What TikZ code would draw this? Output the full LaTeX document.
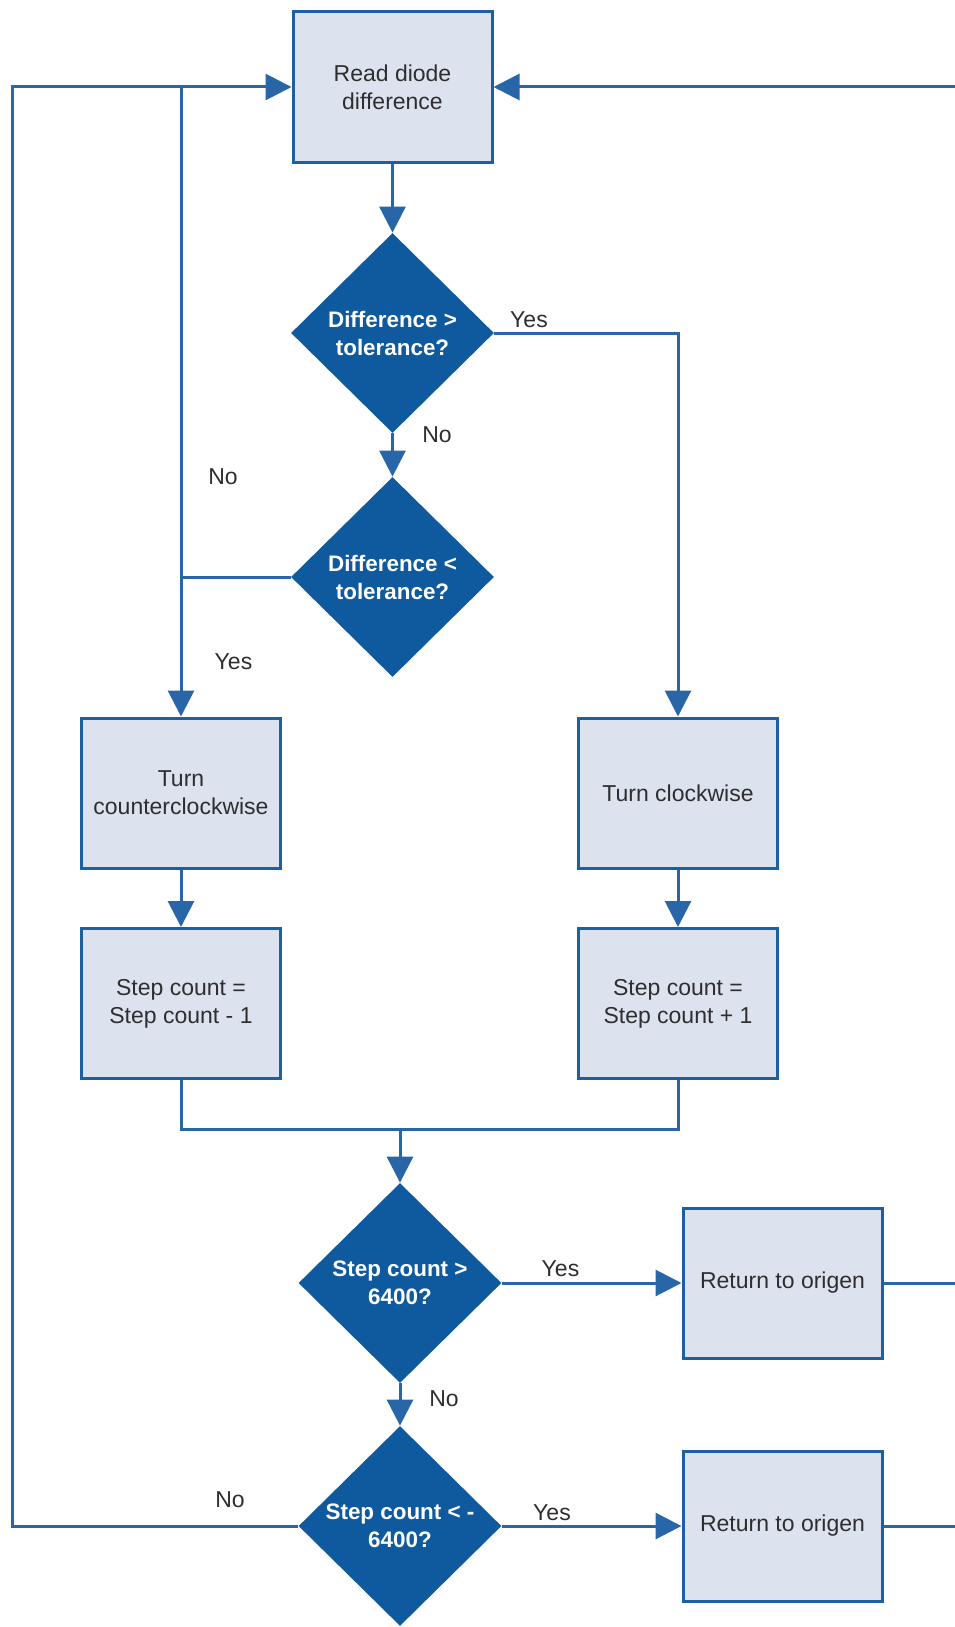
\documentclass[tikz,border=0pt]{standalone}
\usepackage{fontspec}
\setmainfont{Liberation Sans}
\usetikzlibrary{shapes.geometric,arrows.meta}
\definecolor{dblue}{HTML}{0F5A9E}
\definecolor{lblue}{HTML}{DCE3EE}
\definecolor{bborder}{HTML}{1E5F9F}
\definecolor{lcol}{HTML}{2866A8}
\definecolor{tcol}{HTML}{2E2E2E}
\begin{document}
\begin{tikzpicture}[x=0.5pt,y=-0.5pt,
 procbox/.style={draw=bborder, line width=1.5pt, fill=lblue, minimum width=99.5pt, minimum height=75pt, inner sep=2pt, align=center, text=tcol, font=\fontsize{11.5}{14}\selectfont},
 decision/.style={diamond, fill=dblue, draw=none, minimum width=101.5pt, minimum height=100pt, inner sep=0pt, align=center, text=white, font=\bfseries\fontsize{11.2}{14}\selectfont},
 conn/.style={draw=lcol, line width=1.5pt},
 arr/.style={conn, -{Triangle[length=13pt,width=13pt]}},
 lbl/.style={text=tcol, font=\fontsize{11.5}{14}\selectfont, inner sep=0pt}
]
\useasboundingbox (0,0) rectangle (954,1627);

% nodes
\node[procbox] (read) at (392.5,87) {Read diode\\difference};
\node[decision] (d1) at (392.5,333) {Difference >\\tolerance?};
\node[decision] (d2) at (392.5,577) {Difference <\\tolerance?};
\node[procbox] (ccw) at (181,793) {Turn\\counterclockwise};
\node[procbox] (cw) at (678,793) {Turn clockwise};
\node[procbox] (ccwstep) at (181,1003.5) {Step count =\\Step count - 1};
\node[procbox] (cwstep) at (678,1003.5) {Step count =\\Step count + 1};
\node[decision] (d3) at (400,1283) {Step count >\\6400?};
\node[procbox] (ret1) at (782.5,1283) {Return to origen};
\node[decision] (d4) at (400,1526) {Step count < -\\6400?};
\node[procbox] (ret2) at (782.5,1526) {Return to origen};

% labels
\node[lbl] (l1yes) at (529,320) {Yes};
\node[lbl] (l1no) at (437,435) {No};
\node[lbl] (l2no) at (223,477) {No};
\node[lbl] (l2yes) at (233.5,662) {Yes};
\node[lbl] (l3yes) at (560.5,1268.5) {Yes};
\node[lbl] (l3no) at (444,1399) {No};
\node[lbl] (l4yes) at (552,1513) {Yes};
\node[lbl] (l4no) at (230,1500) {No};

% coordinates
\coordinate (yr) at (678,333);
\coordinate (jl) at (181,577);
\coordinate (jt) at (181,87);
\coordinate (lc1) at (12,1526);
\coordinate (lc2) at (12,87);
\coordinate (ml) at (181,1129);
\coordinate (mr) at (678,1129);
\coordinate (mc) at (400,1129);
\coordinate (rc1) at (962,1526);
\coordinate (rc2) at (962,1283);
\coordinate (rc3) at (962,87);

% connectors
\draw[arr] (read.south) -- (d1.north);
\draw[arr] (d1.south) -- (d2.north);
\draw[arr] (d1.east) -- (yr) -- (cw.north);
\draw[arr] (d2.west) -- (jl) -- (ccw.north);
\draw[arr] (jl) -- (jt) -- (read.west);
\draw[conn] (d4.west) -- (lc1) -- (lc2) -- (jt);
\draw[arr] (ccw.south) -- (ccwstep.north);
\draw[arr] (cw.south) -- (cwstep.north);
\draw[conn] (ccwstep.south) -- (ml) -- (mr) -- (cwstep.south);
\draw[arr] (mc) -- (d3.north);
\draw[arr] (d3.east) -- (ret1.west);
\draw[arr] (d3.south) -- (d4.north);
\draw[arr] (d4.east) -- (ret2.west);
\draw[arr] (ret1.east) -- (rc2) -- (rc3) -- (read.east);
\draw[conn] (ret2.east) -- (rc1) -- (rc2);
\end{tikzpicture}
\end{document}
